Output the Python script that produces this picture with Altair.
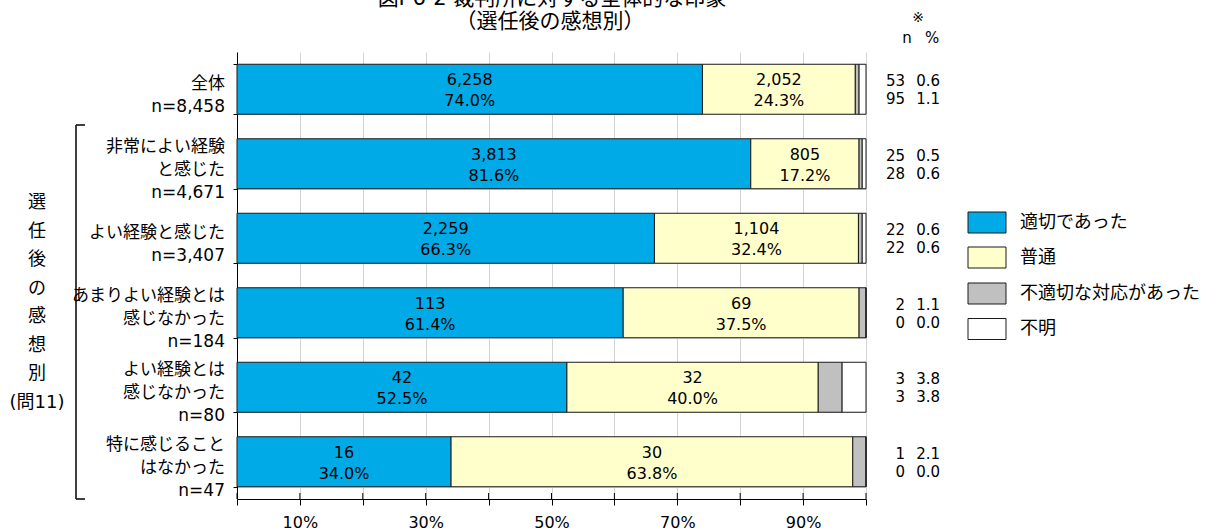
import altair as alt
import pandas as pd

# ---------------- data ----------------
categories = ["全体", "非常によい経験と感じた", "よい経験と感じた",
              "あまりよい経験とは感じなかった", "よい経験とは感じなかった", "特に感じることはなかった"]
cat_labels = ["全体\nn=8,458", "非常によい経験\nと感じた\nn=4,671", "よい経験と感じた\nn=3,407",
              "あまりよい経験とは\n感じなかった\nn=184", "よい経験とは\n感じなかった\nn=80",
              "特に感じること\nはなかった\nn=47"]
series = ["適切であった", "普通", "不適切な対応があった", "不明"]
colors = ["#00AAE6", "#FFFFCC", "#C0C0C0", "#FFFFFF"]

n_appropriate = [6258, 3813, 2259, 113, 42, 16]
pct_appropriate = [74.0, 81.6, 66.3, 61.4, 52.5, 34.0]
n_normal = [2052, 805, 1104, 69, 32, 30]
pct_normal = [24.3, 17.2, 32.4, 37.5, 40.0, 63.8]
n_inappropriate = [53, 25, 22, 2, 3, 1]
pct_inappropriate = [0.6, 0.5, 0.6, 1.1, 3.8, 2.1]
n_unknown = [95, 28, 22, 0, 3, 0]
pct_unknown = [1.1, 0.6, 0.6, 0.0, 3.8, 0.0]

x_ticks = [0, 10, 20, 30, 40, 50, 60, 70, 80, 90, 100]
x_tick_labels = ["10%", "30%", "50%", "70%", "90%"]

title_line1 = "図I-6-2 裁判所に対する全体的な印象"
title_line2 = "（選任後の感想別）"
group_label = "選\n任\n後\nの\n感\n想\n別\n(問11)"

# ---------------- tables ----------------
all_n = [n_appropriate, n_normal, n_inappropriate, n_unknown]
all_p = [pct_appropriate, pct_normal, pct_inappropriate, pct_unknown]
rows = []
for si, s in enumerate(series):
    for ci, c in enumerate(categories):
        rows.append({"cat": c, "series": s, "order": si, "pct": all_p[si][ci],
                     "nlabel": f"{all_n[si][ci]:,}", "plabel": f"{all_p[si][ci]:.1f}%"})
df = pd.DataFrame(rows)

side = pd.DataFrame({"cat": categories,
                     "n3": [str(v) for v in n_inappropriate],
                     "p3": [f"{v:.1f}" for v in pct_inappropriate],
                     "n4": [str(v) for v in n_unknown],
                     "p4": [f"{v:.1f}" for v in pct_unknown]})
labels_df = pd.DataFrame({"cat": categories, "label": cat_labels,
                          "nlines": [lab.count("\n") + 1 for lab in cat_labels]})
ticks_df = pd.DataFrame({"t": [v / 100 for v in x_ticks]})

FONT = "DejaVu Sans, Noto Sans CJK JP"
W, H = 629, 447

label_expr = "indexof(" + str(x_tick_labels) + ", datum.label) >= 0 ? datum.label : ''"
x_axis = alt.Axis(values=[v / 100 for v in x_ticks], format=".0%", labelExpr=label_expr,
                  grid=True, gridColor="#D4D4D4", gridWidth=1, domainColor="black",
                  tickColor="black", tickSize=6, labelFont=FONT, labelFontSize=16,
                  labelColor="black", labelPadding=9, title=None)
x_scale = alt.Scale(domain=[0, 1], nice=False, zero=True)
y_axis = alt.Axis(title=None, labels=False, tickBand="extent", ticks=True, tickSize=4,
                  tickColor="black", domainColor="black", grid=True, gridColor="#D4D4D4")
y_scale = alt.Scale(domain=categories, paddingInner=0.329, paddingOuter=0.1645)


def X(field):
    return alt.X(field, scale=x_scale, axis=x_axis)


def Y():
    return alt.Y("cat:N", scale=y_scale, axis=y_axis, sort=categories)


stacked = alt.Chart(df).transform_stack(
    stack="pct", groupby=["cat"], as_=["x0", "x1"], offset="normalize",
    sort=[alt.SortField(field="order", order="ascending")]
).transform_calculate(xm="(datum.x0 + datum.x1) / 2")

bars = stacked.mark_bar(stroke="#1a1a1a", strokeWidth=1).encode(
    x=X("x0:Q"), x2="x1:Q", y=Y(),
    color=alt.Color("series:N", scale=alt.Scale(domain=series, range=colors), legend=None),
)

inner = stacked.transform_filter("datum.order < 2")
txt_n = inner.mark_text(font=FONT, fontSize=16, color="black", dy=-9).encode(
    x=X("xm:Q"), y=Y(), text="nlabel:N")
txt_p = inner.mark_text(font=FONT, fontSize=16, color="black", dy=12).encode(
    x=X("xm:Q"), y=Y(), text="plabel:N")

xticks_up = alt.Chart(ticks_df).mark_rule(color="black").encode(
    x=X("t:Q"), y=alt.value(H - 6), y2=alt.value(H))

cat_layers = []
for nl, dy in [(2, -5), (3, -17)]:
    cat_layers.append(alt.Chart(labels_df).transform_filter(f"datum.nlines == {nl}").mark_text(
        align="right", baseline="middle", lineBreak="\n", lineHeight=23,
        fontSize=17, font=FONT, color="black", dy=dy
    ).encode(x=alt.value(-12), y=Y(), text="label:N"))

side_layers = []
for col, xv, dy in [("n3", 668, -8), ("p3", 703, -8), ("n4", 668, 10), ("p4", 703, 10)]:
    side_layers.append(alt.Chart(side).mark_text(
        align="right", baseline="middle", fontSize=15, font=FONT, color="black", dy=dy
    ).encode(x=alt.value(xv), y=Y(), text=f"{col}:N"))


def fixed_text(t, x, y, size, align="center", baseline="middle", **kw):
    return alt.Chart(pd.DataFrame({"t": [t]})).mark_text(
        align=align, baseline=baseline, fontSize=size, font=FONT, color="black", **kw
    ).encode(x=alt.value(x), y=alt.value(y), text="t:N")


headers = [
    fixed_text("※", 681, -34, 14),
    fixed_text("n", 670, -14, 15),
    fixed_text("%", 695, -14, 15),
    fixed_text(title_line1, 315, -53, 21),
    fixed_text(title_line2, 313, -30, 21),
    fixed_text(group_label, -200, 151, 18, lineBreak="\n", lineHeight=28.5),
]

one = pd.DataFrame({"a": [0]})
bracket = [
    alt.Chart(one).mark_rule(color="black", strokeWidth=1.5).encode(
        x=alt.value(-161), y=alt.value(73), y2=alt.value(447)),
    alt.Chart(one).mark_rule(color="black", strokeWidth=1.5).encode(
        x=alt.value(-161), x2=alt.value(-152), y=alt.value(73)),
    alt.Chart(one).mark_rule(color="black", strokeWidth=1.5).encode(
        x=alt.value(-161), x2=alt.value(-152), y=alt.value(447)),
]

legend_layers = []
legend_y = [170.5, 205.5, 241.5, 277]
for s, c, ly in zip(series, colors, legend_y):
    legend_layers.append(alt.Chart(one).mark_rect(fill=c, stroke="#1a1a1a", strokeWidth=1).encode(
        x=alt.value(731), x2=alt.value(769), y=alt.value(ly - 10.5), y2=alt.value(ly + 10.5)))
    legend_layers.append(fixed_text(s, 783, ly, 18, align="left"))

chart = alt.layer(
    bars, xticks_up, txt_n, txt_p, *cat_layers, *side_layers, *headers, *bracket, *legend_layers
).properties(
    width=W, height=H,
    autosize=alt.AutoSizeParams(type="none"),
    padding={"left": 237, "top": 52, "right": 345, "bottom": 33},
).configure_view(stroke=None)

chart.save("out.html", embed_options={"renderer": "svg", "actions": False})
